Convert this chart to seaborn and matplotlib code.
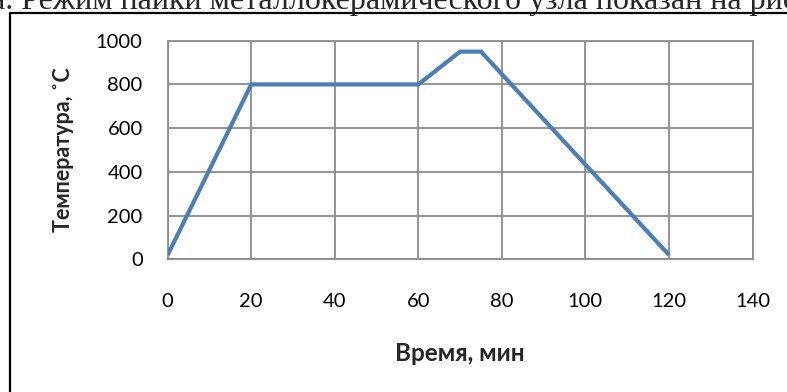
import matplotlib
matplotlib.use("Agg")
import matplotlib.pyplot as plt
import seaborn as sns
import pandas as pd
from matplotlib.lines import Line2D

time_min = [0, 20, 60, 70, 75, 120]
temp_c = [20, 800, 800, 950, 950, 20]
x_ticks = [0, 20, 40, 60, 80, 100, 120, 140]
y_ticks = [0, 200, 400, 600, 800, 1000]
x_label = "Время, мин"
y_label = "Температура, ˚С"
header_text = "а. Режим пайки металлокерамического узла показан на рис"

sns.set_style("white")
plt.rcParams['font.family'] = ['Lato', 'DejaVu Sans']

W, H = 787, 392
fig = plt.figure(figsize=(W / 100, H / 100), dpi=100)
ax = fig.add_axes([167.7 / W, 1 - 259.3 / H, (752.5 - 167.7) / W, (259.3 - 40.7) / H])

df = pd.DataFrame({"t": time_min, "T": temp_c})
sns.lineplot(data=df, x="t", y="T", ax=ax, color="#4A7EBB", linewidth=3.0,
             solid_joinstyle="miter", solid_capstyle="butt", zorder=3)

ax.set_xlim(0, 140)
ax.set_ylim(0, 1000)
ax.set_xticks(x_ticks)
ax.set_yticks(y_ticks)
ax.grid(True, color="#8C8C8C", linewidth=1.3)
ax.set_axisbelow(True)
for side in ["left", "bottom", "right", "top"]:
    ax.spines[side].set_visible(True)
    ax.spines[side].set_color("#8C8C8C")
    ax.spines[side].set_linewidth(1.3)
ax.tick_params(axis="both", which="both", direction="out", length=5, width=1.3,
               color="#8C8C8C", labelsize=14.5, labelcolor="black")
ax.tick_params(axis="x", pad=19)
ax.tick_params(axis="y", pad=13)

ax.set_xlabel(x_label, fontsize=17.5, fontweight="bold", labelpad=23)
ax.set_ylabel(y_label, fontsize=15.5, fontweight="bold", labelpad=16)

# outer frame (left and top edges)
fig.add_artist(Line2D([9.5 / W, 9.5 / W], [0, 1 - 12.5 / H], transform=fig.transFigure,
                      color="black", linewidth=1.6))
fig.add_artist(Line2D([9.5 / W, 1], [1 - 12.5 / H, 1 - 12.5 / H], transform=fig.transFigure,
                      color="black", linewidth=1.6))

fig.text(-0.011, 1 - 9.0 / H, header_text, family=["Liberation Serif", "DejaVu Serif"],
         fontsize=23, va="baseline", ha="left")

fig.savefig("out.png", dpi=100)
